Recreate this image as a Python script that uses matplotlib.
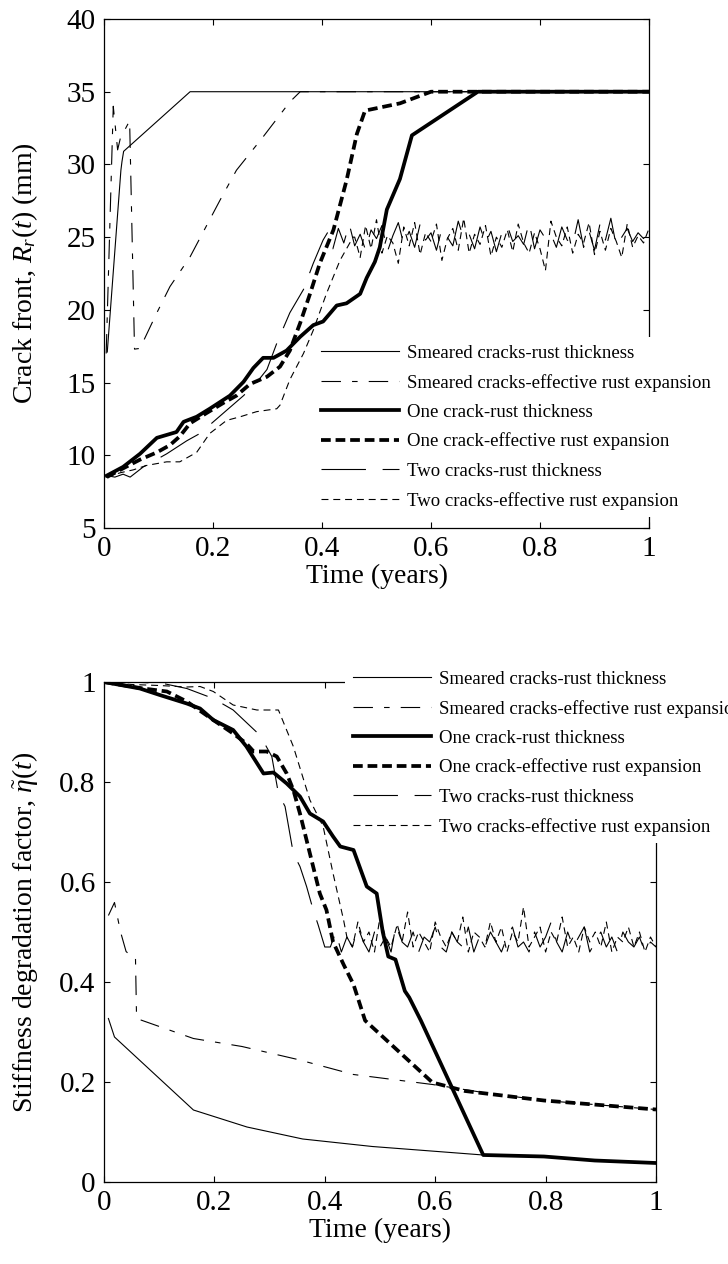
#!/usr/bin/env python3
from __future__ import annotations

import matplotlib

matplotlib.use("Agg")
import matplotlib.pyplot as plt
from matplotlib.ticker import FuncFormatter

# ---- shared time grid for the noisy two-crack plateaus (years)
t_plateau = [
    0.41, 0.42, 0.43, 0.44, 0.45, 0.46, 0.47, 0.48, 0.49, 0.50,
    0.51, 0.52, 0.53, 0.54, 0.55, 0.56, 0.57, 0.58, 0.59, 0.60,
    0.61, 0.62, 0.63, 0.64, 0.65, 0.66, 0.67, 0.68, 0.69, 0.70,
    0.71, 0.72, 0.73, 0.74, 0.75, 0.76, 0.77, 0.78, 0.79, 0.80,
    0.81, 0.82, 0.83, 0.84, 0.85, 0.86, 0.87, 0.88, 0.89, 0.90,
    0.91, 0.92, 0.93, 0.94, 0.95, 0.96, 0.97, 0.98, 0.99, 1.00,
]

# ---- top panel: crack front R_r(t) in mm
cf_smeared_rust_t = [0.006, 0.031, 0.033, 0.036, 0.158, 1.0]
cf_smeared_rust = [17.1, 29.6, 30.2, 30.9, 35.0, 35.0]

cf_smeared_eff_t = [0.004, 0.017, 0.025, 0.030, 0.047, 0.056, 0.066, 0.097,
                    0.121, 0.158, 0.213, 0.243, 0.292, 0.341, 0.360, 1.0]
cf_smeared_eff = [17.0, 34.0, 31.0, 31.8, 33.0, 17.3, 17.35, 19.8,
                  21.6, 23.65, 27.55, 29.6, 31.9, 34.3, 35.0, 35.0]

cf_one_rust_t = [0.005, 0.035, 0.066, 0.097, 0.133, 0.146, 0.170, 0.194, 0.231,
                 0.256, 0.274, 0.292, 0.311, 0.335, 0.360, 0.384, 0.402, 0.427,
                 0.445, 0.470, 0.482, 0.497, 0.506, 0.519, 0.543, 0.565, 0.686, 1.0]
cf_one_rust = [8.6, 9.2, 10.1, 11.2, 11.6, 12.3, 12.65, 13.2, 14.1,
               15.05, 16.0, 16.7, 16.7, 17.2, 18.15, 18.95, 19.2, 20.3,
               20.45, 21.1, 22.2, 23.3, 24.3, 26.9, 29.0, 32.0, 35.0, 35.0]

cf_one_eff_t = [0.005, 0.035, 0.066, 0.097, 0.121, 0.139, 0.158, 0.188, 0.219,
                0.243, 0.268, 0.299, 0.323, 0.341, 0.360, 0.378, 0.396, 0.421,
                0.445, 0.464, 0.479, 0.543, 0.600, 1.0]
cf_one_eff = [8.5, 9.1, 9.7, 10.2, 10.7, 11.3, 12.2, 12.9, 13.6,
              14.1, 14.9, 15.4, 16.1, 17.2, 19.1, 21.1, 23.2, 25.5,
              28.9, 32.1, 33.7, 34.2, 35.0, 35.0]

cf_two_rust_t = [0.005, 0.020, 0.035, 0.048, 0.072, 0.115, 0.152, 0.176, 0.219,
                 0.256, 0.280, 0.299, 0.317, 0.341, 0.366, 0.384, 0.402]
cf_two_rust = [8.6, 8.5, 8.7, 8.5, 9.2, 10.1, 11.0, 11.5, 12.9,
               14.1, 15.0, 15.9, 17.7, 19.8, 21.4, 23.2, 24.8]
cf_two_rust_plateau = [
    25.3, 24.2, 25.6, 24.6, 25.9, 24.4, 25.2, 24.1, 25.5, 24.9,
    25.8, 24.0, 25.1, 26.0, 24.5, 25.4, 24.3, 25.9, 24.8, 25.3,
    24.1, 25.6, 25.0, 24.4, 26.1, 24.9, 25.2, 24.2, 25.7, 24.6,
    25.4, 24.0, 25.3, 25.8, 24.7, 25.1, 24.5, 26.0, 24.2, 25.5,
    24.9, 25.2, 24.3, 25.7, 24.8, 24.5, 26.2, 24.3, 25.4, 24.1,
    25.9, 24.8, 26.3, 24.4, 25.0, 25.6, 24.7, 25.3, 24.9, 25.5,
]

cf_two_eff_t = [0.005, 0.030, 0.054, 0.078, 0.115, 0.139, 0.170, 0.194, 0.225,
                0.250, 0.280, 0.317, 0.323, 0.341, 0.366, 0.384, 0.408, 0.433, 0.457]
cf_two_eff = [8.5, 8.8, 9.0, 9.3, 9.55, 9.55, 10.2, 11.5, 12.4,
              12.65, 13.0, 13.2, 13.45, 15.2, 17.0, 18.6, 21.1, 23.4, 25.0]
cf_two_eff_plateau = [  # from t = 0.46
    25.0, 23.6, 25.8, 24.2, 26.2, 23.9, 25.1, 24.6, 23.2, 25.7,
    24.4, 26.0, 23.8, 25.3, 24.7, 25.9, 23.4, 24.9, 25.6, 24.1,
    26.3, 23.9, 25.2, 24.5, 25.8, 23.7, 25.0, 24.3, 25.5, 24.0,
    25.9, 24.6, 23.9, 25.3, 24.2, 22.7, 26.1, 25.0, 24.4, 25.7,
    23.9, 25.2, 24.6, 26.0, 23.8, 25.4, 24.1, 25.6, 24.7, 23.6,
    25.9, 24.3, 25.1, 24.6, 25.6,
]

# ---- bottom panel: stiffness degradation factor
sd_smeared_rust_t = [0.008, 0.019, 0.162, 0.259, 0.360, 0.486, 0.687, 0.797, 0.889, 1.0]
sd_smeared_rust = [0.327, 0.290, 0.144, 0.110, 0.086, 0.071, 0.054, 0.051, 0.043, 0.039]

sd_smeared_eff_t = [0.008, 0.019, 0.030, 0.040, 0.047, 0.057, 0.059, 0.162,
                    0.250, 0.351, 0.452, 0.595, 0.687, 0.797, 1.0]
sd_smeared_eff = [0.533, 0.559, 0.500, 0.461, 0.454, 0.450, 0.327, 0.287,
                  0.271, 0.245, 0.215, 0.195, 0.179, 0.163, 0.145]

sd_one_rust_t = [0.0, 0.065, 0.101, 0.150, 0.174, 0.198, 0.234, 0.258, 0.289, 0.307,
                 0.331, 0.355, 0.373, 0.397, 0.415, 0.428, 0.452, 0.476, 0.494, 0.505,
                 0.515, 0.528, 0.545, 0.553, 0.574, 0.687, 0.797, 0.889, 1.0]
sd_one_rust = [1.0, 0.987, 0.974, 0.957, 0.947, 0.924, 0.904, 0.871, 0.817, 0.819,
               0.797, 0.771, 0.737, 0.721, 0.691, 0.671, 0.664, 0.591, 0.577, 0.500,
               0.451, 0.445, 0.382, 0.369, 0.323, 0.054, 0.051, 0.043, 0.038]

sd_one_eff_t = [0.0, 0.071, 0.114, 0.150, 0.198, 0.234, 0.258, 0.271, 0.295, 0.313,
                0.331, 0.343, 0.355, 0.373, 0.391, 0.403, 0.415, 0.434, 0.452, 0.473,
                0.595, 0.654, 0.797, 1.0]
sd_one_eff = [1.0, 0.987, 0.981, 0.961, 0.924, 0.897, 0.877, 0.861, 0.861, 0.851,
              0.817, 0.784, 0.737, 0.657, 0.577, 0.544, 0.480, 0.435, 0.395, 0.323,
              0.199, 0.182, 0.163, 0.145]

sd_two_rust_t = [0.0, 0.050, 0.107, 0.150, 0.198, 0.234, 0.283, 0.304, 0.316, 0.328,
                 0.343, 0.355, 0.367, 0.379, 0.388, 0.400]
sd_two_rust = [1.0, 1.0, 0.997, 0.987, 0.967, 0.944, 0.893, 0.851, 0.777, 0.751,
               0.657, 0.631, 0.591, 0.544, 0.514, 0.470]
sd_two_rust_plateau = [
    0.47, 0.50, 0.46, 0.49, 0.47, 0.51, 0.48, 0.46, 0.50, 0.47,
    0.49, 0.46, 0.52, 0.48, 0.47, 0.50, 0.46, 0.49, 0.48, 0.51,
    0.47, 0.46, 0.50, 0.48, 0.47, 0.51, 0.46, 0.49, 0.47, 0.50,
    0.48, 0.46, 0.49, 0.51, 0.47, 0.48, 0.46, 0.50, 0.47, 0.49,
    0.52, 0.48, 0.46, 0.50, 0.47, 0.49, 0.51, 0.46, 0.48, 0.50,
    0.47, 0.49, 0.46, 0.50, 0.48, 0.47, 0.49, 0.46, 0.48, 0.47,
]

sd_two_eff_t = [0.0, 0.050, 0.100, 0.150, 0.174, 0.198, 0.234, 0.277, 0.316,
                0.343, 0.373, 0.397, 0.415, 0.434]
sd_two_eff = [1.0, 0.995, 0.993, 0.990, 0.991, 0.981, 0.954, 0.944, 0.944,
              0.871, 0.764, 0.711, 0.617, 0.524]
sd_two_eff_plateau = [  # from t = 0.44
    0.49, 0.47, 0.52, 0.48, 0.50, 0.46, 0.53, 0.49, 0.47, 0.51,
    0.48, 0.54, 0.47, 0.50, 0.48, 0.46, 0.52, 0.49, 0.47, 0.50,
    0.48, 0.53, 0.46, 0.50, 0.49, 0.47, 0.52, 0.48, 0.51, 0.46,
    0.50, 0.48, 0.55, 0.47, 0.49, 0.51, 0.46, 0.50, 0.48, 0.53,
    0.47, 0.49, 0.46, 0.51, 0.48, 0.50, 0.47, 0.52, 0.46, 0.49,
    0.48, 0.51, 0.47, 0.50, 0.46, 0.49, 0.47,
]

labels = [
    "Smeared cracks-rust thickness",
    "Smeared cracks-effective rust expansion",
    "One crack-rust thickness",
    "One crack-effective rust expansion",
    "Two cracks-rust thickness",
    "Two cracks-effective rust expansion",
]

# line styles in the same order as labels
STYLES = [
    dict(color="black", linewidth=0.8, linestyle="-"),
    dict(color="black", linewidth=0.8, linestyle=(0, (14, 8, 4, 8))),
    dict(color="black", linewidth=2.7, linestyle="-"),
    dict(color="black", linewidth=2.7, linestyle=(0, (7, 3.5))),
    dict(color="black", linewidth=0.8, linestyle=(0, (32, 12))),
    dict(color="black", linewidth=0.8, linestyle=(0, (5, 3.5))),
]

plt.rcParams["font.family"] = ["Liberation Serif", "DejaVu Serif"]
plt.rcParams["mathtext.fontset"] = "custom"
plt.rcParams["mathtext.rm"] = "Liberation Serif"
plt.rcParams["mathtext.it"] = "Liberation Serif:italic"
plt.rcParams["lines.scale_dashes"] = False

W, H = 728, 1264
TICK_FS = 21
LABEL_FS = 20
LEGEND_FS = 13.5

# thin lines first, thick ones on top
DRAW_ORDER = [0, 1, 4, 5, 2, 3]


def _style_axes(ax, ylim, yticks):
    ax.set_xlim(0, 1)
    ax.set_ylim(*ylim)
    ax.set_xticks([0, 0.2, 0.4, 0.6, 0.8, 1.0])
    ax.set_yticks(yticks)
    fmt = FuncFormatter(lambda v, _: f"{v:g}")
    ax.xaxis.set_major_formatter(fmt)
    ax.yaxis.set_major_formatter(fmt)
    ax.tick_params(direction="in", top=True, right=True, length=4, width=0.8,
                   labelsize=TICK_FS, pad=6)
    for sp in ax.spines.values():
        sp.set_linewidth(0.9)
    ax.set_xlabel("Time (years)", fontsize=LABEL_FS, labelpad=1)


def _draw(ax, series):
    handles = {}
    for i in DRAW_ORDER:
        x, y = series[i]
        (h,) = ax.plot(x, y, label=labels[i], **STYLES[i])
        handles[i] = h
    return [handles[i] for i in range(len(labels))]


def _legend(ax, handles, x_px, y_px):
    ax.legend(handles, labels, loc="upper left",
              bbox_to_anchor=(x_px / W, 1 - y_px / H),
              bbox_transform=ax.figure.transFigure, borderaxespad=0,
              frameon=True, fancybox=False, edgecolor="none", facecolor="white",
              framealpha=1, fontsize=LEGEND_FS, handlelength=4.2,
              handletextpad=0.4, labelspacing=0.64, borderpad=0.4)


fig = plt.figure(figsize=(W / 100, H / 100), dpi=100)

# ---------------- top panel
ax = fig.add_axes([104 / W, 1 - 528 / H, 545 / W, 509 / H])
handles = _draw(ax, [
    (cf_smeared_rust_t, cf_smeared_rust),
    (cf_smeared_eff_t, cf_smeared_eff),
    (cf_one_rust_t, cf_one_rust),
    (cf_one_eff_t, cf_one_eff),
    (cf_two_rust_t + t_plateau, cf_two_rust + cf_two_rust_plateau),
    (cf_two_eff_t + t_plateau[5:], cf_two_eff + cf_two_eff_plateau),
])
_style_axes(ax, (5, 40), [5, 10, 15, 20, 25, 30, 35, 40])
ax.set_ylabel(r"Crack front, $R_r(t)$ (mm)", fontsize=LABEL_FS)
ax.yaxis.set_label_coords(-0.118, 0.5)
_legend(ax, handles, 313, 337)

# ---------------- bottom panel
ax2 = fig.add_axes([104 / W, 1 - 1182 / H, 552 / W, 500 / H])
handles2 = _draw(ax2, [
    (sd_smeared_rust_t, sd_smeared_rust),
    (sd_smeared_eff_t, sd_smeared_eff),
    (sd_one_rust_t, sd_one_rust),
    (sd_one_eff_t, sd_one_eff),
    (sd_two_rust_t + t_plateau, sd_two_rust + sd_two_rust_plateau),
    (sd_two_eff_t + t_plateau[3:], sd_two_eff + sd_two_eff_plateau),
])
_style_axes(ax2, (0, 1), [0, 0.2, 0.4, 0.6, 0.8, 1.0])
ax2.set_ylabel(r"Stiffness degradation factor, $\tilde{\eta}(t)$", fontsize=LABEL_FS)
ax2.yaxis.set_label_coords(-0.116, 0.5)
_legend(ax2, handles2, 345, 663)

fig.savefig("out.png", dpi=100)
